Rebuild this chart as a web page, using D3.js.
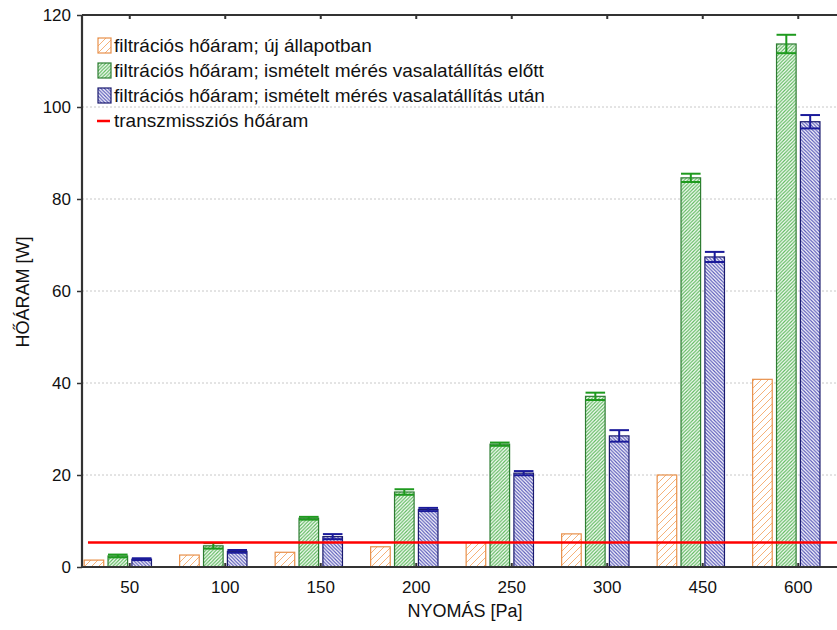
<!DOCTYPE html>
<html lang="hu">
<head>
    <meta charset="UTF-8">
    <title>Hőáram - nyomás</title>
    <script src="https://cdn.jsdelivr.net/npm/d3@7"></script>
    <style>
        body { margin: 0; background: #fff; }
        svg { font-family: "Liberation Sans", Arial, sans-serif; display: block; }
        .grid line { stroke: #c8c8c8; stroke-dasharray: 2,2; }
        .axis text { font-size: 17px; fill: #111; }
    </style>
</head>
<body>
    <svg width="837" height="630"></svg>

    <script>
        // adatok
        const categories = ["50", "100", "150", "200", "250", "300", "450", "600"];
        const newState = [1.5, 2.6, 3.2, 4.4, 5.3, 7.2, 20.0, 40.8];
        const beforeVals = [2.4, 4.6, 10.6, 16.3, 26.7, 37.1, 84.6, 113.7];
        const beforeErr = [0.3, 0.6, 0.3, 0.6, 0.35, 0.8, 0.9, 2.0];
        const afterVals = [1.7, 3.4, 6.6, 12.5, 20.4, 28.5, 67.4, 96.8];
        const afterErr = [0.2, 0.3, 0.55, 0.35, 0.45, 1.25, 1.1, 1.45];
        const transmission = 5.3;
        const yTicks = [0, 20, 40, 60, 80, 100, 120];
        const legendLabels = [
            "filtrációs hőáram; új állapotban",
            "filtrációs hőáram; ismételt mérés vasalatállítás előtt",
            "filtrációs hőáram; ismételt mérés vasalatállítás után",
            "transzmissziós hőáram"
        ];

        const margin = { left: 82, top: 15, bottom: 567, right: 846 };
        const svg = d3.select("svg");

        // minták (sraffozás)
        const defs = svg.append("defs");
        function hatch(id, size, color, dir, width) {
            const p = defs.append("pattern")
                .attr("id", id)
                .attr("patternUnits", "userSpaceOnUse")
                .attr("width", size).attr("height", size);
            p.append("rect").attr("width", size).attr("height", size).attr("fill", "#fff");
            const d = dir > 0
                ? `M0,${size} L${size},0 M-1,1 L1,-1 M${size-1},${size+1} L${size+1},${size-1}`
                : `M0,0 L${size},${size} M-1,${size-1} L1,${size+1} M${size-1},-1 L${size+1},1`;
            p.append("path").attr("d", d).attr("stroke", color).attr("stroke-width", width);
        }
        hatch("hOrange", 7, "#f5b27a", 1, 1);
        hatch("hGreen", 3.5, "#5cb85c", 1, 1.2);
        hatch("hBlue", 3.5, "#5656b8", -1, 1.2);

        const x = d3.scaleBand().domain(categories).range([margin.left, margin.right]);
        const slot = x.bandwidth() / 4;
        const barW = slot * 0.82;
        const y = d3.scaleLinear().domain([0, 120]).range([margin.bottom, margin.top]);

        // rács
        svg.append("g").attr("class", "grid")
            .selectAll("line").data(yTicks.slice(1, -1)).join("line")
            .attr("x1", margin.left).attr("x2", 837)
            .attr("y1", d => y(d)).attr("y2", d => y(d));

        const series = [
            { vals: newState, err: null, fill: "url(#hOrange)", stroke: "#e8904a", ebar: null },
            { vals: beforeVals, err: beforeErr, fill: "url(#hGreen)", stroke: "#2e7d32", ebar: "#1e9a1e" },
            { vals: afterVals, err: afterErr, fill: "url(#hBlue)", stroke: "#1a1a6e", ebar: "#1a1a9a" }
        ];

        series.forEach((s, si) => {
            const g = svg.append("g");
            const data = categories.map((c, i) => ({ c, v: s.vals[i], e: s.err ? s.err[i] : 0 }));
            g.selectAll("rect").data(data).join("rect")
                .attr("x", d => x(d.c) + slot * si + (slot - barW) / 2)
                .attr("width", barW)
                .attr("y", d => y(d.v))
                .attr("height", d => y(0) - y(d.v))
                .attr("fill", s.fill)
                .attr("stroke", s.stroke)
                .attr("stroke-width", 1.2);
            if (s.err) {
                const eb = g.selectAll("g.eb").data(data).join("g").attr("class", "eb")
                    .attr("stroke", s.ebar).attr("stroke-width", 2);
                const cx = d => x(d.c) + slot * si + slot / 2;
                eb.append("line").attr("x1", cx).attr("x2", cx)
                    .attr("y1", d => y(d.v + d.e)).attr("y2", d => y(d.v - d.e));
                eb.append("line").attr("x1", d => cx(d) - barW / 2).attr("x2", d => cx(d) + barW / 2)
                    .attr("y1", d => y(d.v + d.e)).attr("y2", d => y(d.v + d.e));
                eb.append("line").attr("x1", d => cx(d) - barW / 2).attr("x2", d => cx(d) + barW / 2)
                    .attr("y1", d => y(d.v - d.e)).attr("y2", d => y(d.v - d.e));
            }
        });

        // transzmissziós hőáram
        svg.append("line")
            .attr("x1", x(categories[0]) + slot * 0.25).attr("x2", 837)
            .attr("y1", y(transmission)).attr("y2", y(transmission))
            .attr("stroke", "#ff0000").attr("stroke-width", 2.5);

        // tengelyek
        const xAxis = svg.append("g").attr("class", "axis")
            .attr("transform", `translate(0,${margin.bottom})`)
            .call(d3.axisBottom(x).tickSize(0).tickPadding(14));
        xAxis.select(".domain").remove();
        svg.append("g").attr("class", "axis")
            .attr("transform", `translate(${margin.left},0)`)
            .call(d3.axisLeft(y).tickValues(yTicks).tickSize(5).tickPadding(6))
            .call(g => g.select(".domain").remove())
            .call(g => g.selectAll(".tick line").attr("stroke", "#333").attr("stroke-width", 1.5));

        // keret
        const frame = svg.append("g").attr("stroke", "#333").attr("stroke-width", 2.2);
        frame.append("line").attr("x1", margin.left).attr("x2", 837).attr("y1", margin.bottom).attr("y2", margin.bottom);
        frame.append("line").attr("x1", margin.left).attr("x2", 837).attr("y1", margin.top).attr("y2", margin.top);
        frame.append("line").attr("x1", margin.left).attr("x2", margin.left).attr("y1", margin.top).attr("y2", margin.bottom + 1);
        // kis osztások
        svg.append("g").attr("stroke", "#333").attr("stroke-width", 2)
            .selectAll("line").data(categories).join("line")
            .attr("x1", d => x(d) + x.bandwidth() / 2).attr("x2", d => x(d) + x.bandwidth() / 2)
            .attr("y1", margin.bottom - 4).attr("y2", margin.bottom);
        svg.append("g").attr("stroke", "#333").attr("stroke-width", 2)
            .selectAll("line").data(categories).join("line")
            .attr("x1", d => x(d) + x.bandwidth() / 2).attr("x2", d => x(d) + x.bandwidth() / 2)
            .attr("y1", margin.top).attr("y2", margin.top + 4);

        // tengelyfeliratok
        svg.append("text")
            .attr("x", 465).attr("y", 617)
            .attr("text-anchor", "middle")
            .attr("font-size", 18).attr("fill", "#111")
            .text("NYOMÁS [Pa]");
        svg.append("text")
            .attr("transform", "translate(29,292) rotate(-90)")
            .attr("text-anchor", "middle")
            .attr("font-size", 18).attr("fill", "#111")
            .text("HŐÁRAM [W]");

        // jelmagyarázat
        const legend = svg.append("g").attr("transform", "translate(98,46)");
        const swatch = [
            { fill: "url(#hOrange)", stroke: "#e8904a" },
            { fill: "url(#hGreen)", stroke: "#2e7d32" },
            { fill: "url(#hBlue)", stroke: "#1a1a6e" }
        ];
        legendLabels.forEach((lab, i) => {
            const row = legend.append("g").attr("transform", `translate(0,${i * 25})`);
            if (i < 3) {
                row.append("rect").attr("x", 0).attr("y", -8).attr("width", 13).attr("height", 15)
                    .attr("fill", swatch[i].fill).attr("stroke", swatch[i].stroke).attr("stroke-width", 1.2);
            } else {
                row.append("line").attr("x1", -1).attr("x2", 12).attr("y1", 0).attr("y2", 0)
                    .attr("stroke", "#ff0000").attr("stroke-width", 2.5);
            }
            row.append("text").attr("x", 16).attr("y", 6)
                .attr("font-size", 19).attr("fill", "#111")
                .text(lab);
        });
    </script>
</body>
</html>
